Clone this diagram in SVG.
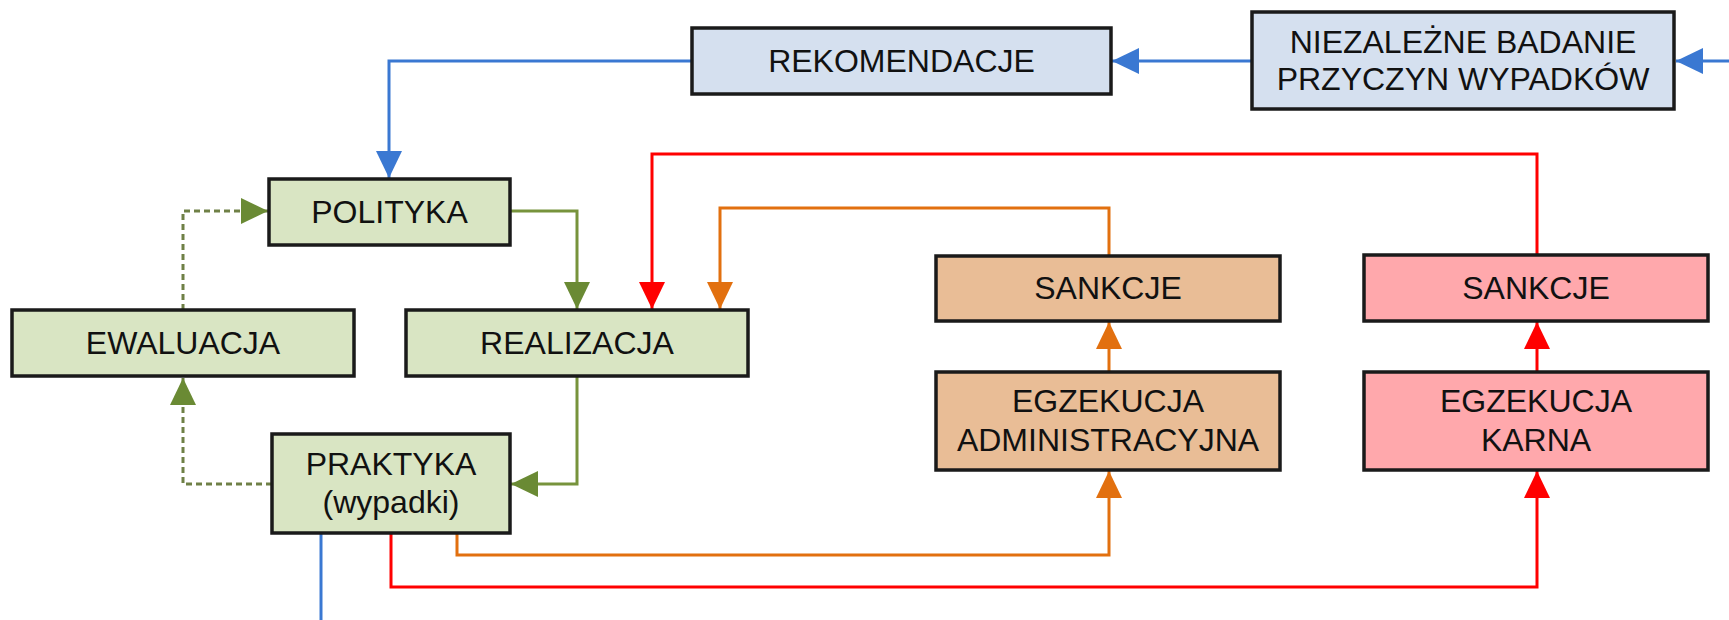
<svg xmlns="http://www.w3.org/2000/svg" width="1729" height="620" viewBox="0 0 1729 620">
<style>
.box{stroke:#1a1a1a;stroke-width:3.5}
.g{fill:#d9e5c3}
.b{fill:#d5e0ef}
.o{fill:#e9bd96}
.r{fill:#ffa8ac}
text{font-family:"Liberation Sans",Arial,sans-serif;font-size:32px;fill:#111;text-anchor:middle}
.c{fill:none;stroke-width:3}
.cb{stroke:#3a78d2}
.cg{stroke:#77933c}
.cd{stroke:#6f8046;stroke-dasharray:6 4}
.co{stroke:#e2700f}
.cr{stroke:#f00}
</style>
<defs>
<marker id="ab" markerUnits="userSpaceOnUse" markerWidth="27" markerHeight="26" refX="27" refY="13" orient="auto"><path d="M0,0 L27,13 L0,26 z" fill="#3a78d2"/></marker>
<marker id="ag" markerUnits="userSpaceOnUse" markerWidth="27" markerHeight="26" refX="27" refY="13" orient="auto"><path d="M0,0 L27,13 L0,26 z" fill="#6a8a34"/></marker>
<marker id="ao" markerUnits="userSpaceOnUse" markerWidth="27" markerHeight="26" refX="27" refY="13" orient="auto"><path d="M0,0 L27,13 L0,26 z" fill="#e2700f"/></marker>
<marker id="ar" markerUnits="userSpaceOnUse" markerWidth="27" markerHeight="26" refX="27" refY="13" orient="auto"><path d="M0,0 L27,13 L0,26 z" fill="#f00"/></marker>
</defs>
<rect width="1729" height="620" fill="#fff"/>
<g id="connectors">
<path class="c cb" d="M1729,61 H1676" marker-end="url(#ab)"/>
<path class="c cb" d="M1252,61 H1112" marker-end="url(#ab)"/>
<path class="c cb" d="M692,61 H389 V178" marker-end="url(#ab)"/>
<path class="c cb" d="M321,533 V620"/>
<path class="c cd" d="M183,310 V211 H268" marker-end="url(#ag)"/>
<path class="c cg" d="M510,211 H577 V309" marker-end="url(#ag)"/>
<path class="c cg" d="M577,376 V484 H511" marker-end="url(#ag)"/>
<path class="c cd" d="M272,484 H183 V378" marker-end="url(#ag)"/>
<path class="c co" d="M457,533 V555 H1109 V471" marker-end="url(#ao)"/>
<path class="c co" d="M1109,372 V322" marker-end="url(#ao)"/>
<path class="c co" d="M1109,256 V208 H720 V309" marker-end="url(#ao)"/>
<path class="c cr" d="M391,533 V587 H1537 V471" marker-end="url(#ar)"/>
<path class="c cr" d="M1537,372 V322" marker-end="url(#ar)"/>
<path class="c cr" d="M1537,255 V154 H652 V309" marker-end="url(#ar)"/>
</g>
<g id="rekomendacje"><rect class="box b" x="692" y="28" width="419" height="66"/><text x="901.5" y="72">REKOMENDACJE</text></g>
<g id="niezalezne"><rect class="box b" x="1252" y="12" width="422" height="97"/><text x="1463" y="53">NIEZALEŻNE BADANIE</text><text x="1463" y="90">PRZYCZYN WYPADKÓW</text></g>
<g id="polityka"><rect class="box g" x="269" y="179" width="241" height="66"/><text x="389.5" y="223">POLITYKA</text></g>
<g id="ewaluacja"><rect class="box g" x="12" y="310" width="342" height="66"/><text x="183" y="354">EWALUACJA</text></g>
<g id="realizacja"><rect class="box g" x="406" y="310" width="342" height="66"/><text x="577" y="354">REALIZACJA</text></g>
<g id="praktyka"><rect class="box g" x="272" y="434" width="238" height="99"/><text x="391" y="475">PRAKTYKA</text><text x="391" y="513">(wypadki)</text></g>
<g id="sankcje-adm"><rect class="box o" x="936" y="256" width="344" height="65"/><text x="1108" y="299">SANKCJE</text></g>
<g id="egzekucja-adm"><rect class="box o" x="936" y="372" width="344" height="98"/><text x="1108" y="412">EGZEKUCJA</text><text x="1108" y="451">ADMINISTRACYJNA</text></g>
<g id="sankcje-karne"><rect class="box r" x="1364" y="255" width="344" height="66"/><text x="1536" y="299">SANKCJE</text></g>
<g id="egzekucja-karna"><rect class="box r" x="1364" y="372" width="344" height="98"/><text x="1536" y="412">EGZEKUCJA</text><text x="1536" y="451">KARNA</text></g>
</svg>
